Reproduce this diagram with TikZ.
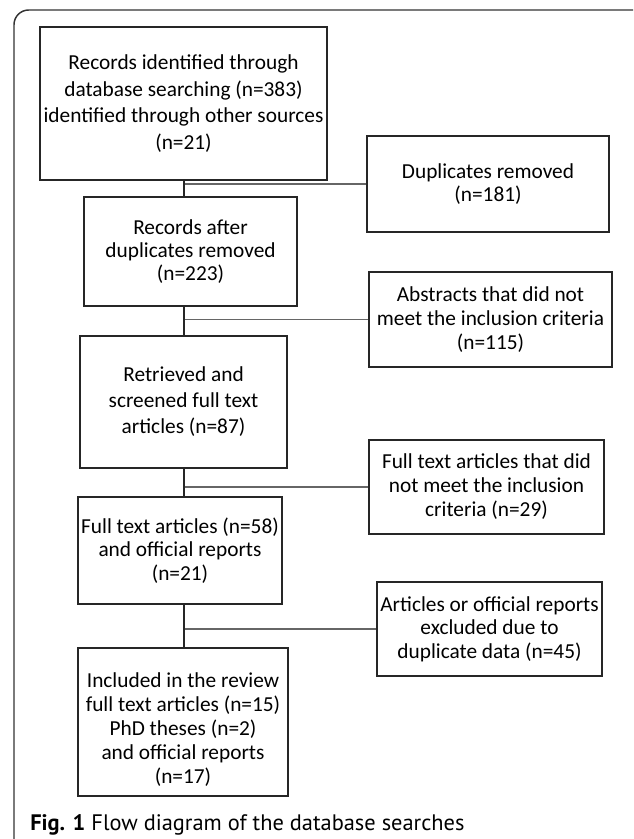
\documentclass[tikz,border=0pt]{standalone}
\usepackage{fontspec}
\setmainfont{Carlito}
\newfontfamily\capfont{PT Sans}
\begin{document}
\begin{tikzpicture}[x=0.75pt,y=-0.75pt,
  boxst/.style={draw=black!85,line width=0.9pt,inner sep=0pt,align=center,
    font=\fontsize{16}{18}\selectfont},
  vline/.style={draw=black!85,line width=0.9pt},
  hline/.style={draw=black!60,line width=1.2pt}]
\useasboundingbox (0,0) rectangle (633,839);
\begin{scope}
\clip (0,0) rectangle (633,839);
\draw[black!80,line width=1.1pt,rounded corners=11pt] (14,10) rectangle (660,870);
\end{scope}
\node[boxst,minimum width=215.25pt,minimum height=114.75pt,font=\fontsize{16}{20}\selectfont] (b1) at (183.5,103.5)
  {Records identified through\\database searching (n=383)\\identified through other sources\\(n=21)};
\node[boxst,minimum width=181.5pt,minimum height=72pt,font=\fontsize{16}{17.3}\selectfont] (dup) at (488,184)
  {Duplicates removed\\(n=181)};
\node[boxst,minimum width=159.75pt,minimum height=81.75pt,font=\fontsize{16}{17.3}\selectfont] (b2) at (190.5,251.5)
  {Records after\\duplicates removed\\(n=223)};
\node[boxst,minimum width=182.25pt,minimum height=71.25pt] (abs) at (490.5,319.5)
  {Abstracts that did not\\meet the inclusion criteria\\(n=115)};
\node[boxst,minimum width=155.25pt,minimum height=99pt,font=\fontsize{16}{19.5}\selectfont] (b3) at (183.5,402)
  {Retrieved and\\screened full text\\articles (n=87)};
\node[boxst,minimum width=176.25pt,minimum height=70.5pt] (ft) at (486.5,487)
  {Full text articles that did\\not meet the inclusion\\criteria (n=29)};
\node[boxst,minimum width=153pt,minimum height=80.25pt,font=\fontsize{16}{17.5}\selectfont] (b4) at (180,550.5)
  {Full text articles (n=58)\\and official reports\\(n=21)};
\node[boxst,minimum width=168.75pt,minimum height=70.5pt,font=\fontsize{16}{17.5}\selectfont] (art) at (489.5,629)
  {Articles or official reports\\excluded due to\\duplicate data (n=45)};
\node[boxst,minimum width=157.5pt,minimum height=111pt] (b5) at (183,722) {};
\node[inner sep=0pt,align=center,font=\fontsize{16}{18}\selectfont] (b5t) at (183,730)
  {Included in the review\\full text articles (n=15)\\PhD theses (n=2)\\and official reports\\(n=17)};
\coordinate (sp) at (184,0);
\draw[hline] (sp |- dup.west) -- (dup.west);
\draw[hline] (sp |- abs.west) -- (abs.west);
\draw[hline] (sp |- ft.west) -- (ft.west);
\draw[hline] (sp |- art.west) -- (art.west);
\draw[vline] (b1.south -| sp) -- (b2.north -| sp);
\draw[vline] (b2.south -| sp) -- (b3.north -| sp);
\draw[vline] (b3.south -| sp) -- (b4.north -| sp);
\draw[vline] (b4.south -| sp) -- (b5.north -| sp);
\node[anchor=base west,inner sep=0pt,font=\capfont\fontsize{16.8}{18}\selectfont] (cap) at (30,830)
  {\textbf{Fig. 1} Flow diagram of the database searches};
\end{tikzpicture}
\end{document}
